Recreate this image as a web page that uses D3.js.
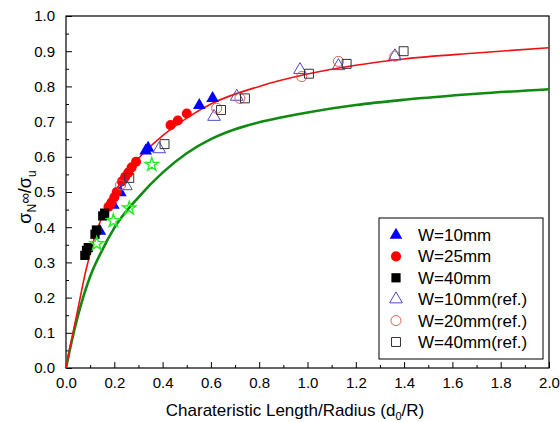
<!DOCTYPE html>
<html>
<head>
<meta charset="utf-8">
<script src="https://cdn.jsdelivr.net/npm/d3@7"></script>
<style>
  body { margin: 0; background: #fff; }
  svg { font-family: "Liberation Sans", Arial, sans-serif; }
</style>
</head>
<body>
<div id="chart"></div>
<script>
// measured points (d0/R, sigmaN/sigmau)
var w10 = [[0.607,0.766],[0.552,0.746],[0.34,0.625],[0.33,0.617],[0.225,0.498],[0.196,0.463],[0.14,0.389]];
var w25 = [[0.50,0.723],[0.463,0.703],[0.433,0.69],[0.29,0.586],[0.272,0.57],[0.258,0.555],[0.245,0.543],[0.232,0.53],[0.21,0.5],[0.2,0.485],[0.188,0.47],[0.176,0.458]];
var w40 = [[0.16,0.44],[0.152,0.432],[0.126,0.392],[0.12,0.38],[0.092,0.342],[0.085,0.334],[0.078,0.32]];
var stars = [[0.355,0.578],[0.262,0.454],[0.196,0.418],[0.127,0.353]];
var w10ref = [[0.613,0.714],[0.707,0.771],[0.386,0.622],[0.248,0.517],[0.969,0.847],[1.128,0.858],[1.362,0.886]];
var w20ref = [[0.624,0.738],[0.72,0.766],[0.226,0.52],[0.976,0.828],[1.128,0.871],[1.362,0.886]];
var w40ref = [[0.741,0.766],[0.642,0.733],[0.408,0.636],[0.262,0.54],[1.006,0.836],[1.162,0.864],[1.398,0.9]];

// fitted curves
var redX = [0, 0.02, 0.05, 0.08, 0.1, 0.12, 0.15, 0.2, 0.3, 0.4, 0.5, 0.6, 0.8, 1.0, 1.2, 1.4, 1.7, 2.0];
var redY = [0, 0.07, 0.17, 0.27, 0.325, 0.375, 0.43, 0.497, 0.595, 0.66, 0.71, 0.75, 0.80, 0.835, 0.86, 0.878, 0.895, 0.91];
var greenX = [0, 0.02, 0.05, 0.1, 0.15, 0.2, 0.3, 0.4, 0.5, 0.6, 0.7, 0.8, 0.9, 1.0, 1.2, 1.4, 1.7, 2.0];
var greenY = [0, 0.065, 0.15, 0.26, 0.335, 0.398, 0.485, 0.555, 0.61, 0.65, 0.678, 0.698, 0.713, 0.726, 0.747, 0.762, 0.779, 0.792];

var legendLabels = ["W=10mm", "W=25mm", "W=40mm", "W=10mm(ref.)", "W=20mm(ref.)", "W=40mm(ref.)"];

var width = 560, height = 422;
var padding = {left: 66, right: 11, top: 16, bottom: 54};

var svg = d3.select("#chart").append("svg")
    .attr("width", width)
    .attr("height", height);

var xScale = d3.scaleLinear().domain([0, 2]).range([padding.left, width - padding.right]);
var yScale = d3.scaleLinear().domain([0, 1]).range([height - padding.bottom, padding.top]);

var fmt = d3.format(".1f");

// x axis, major and minor ticks pointing inward
svg.append("g")
    .attr("transform", "translate(0," + yScale(0) + ")")
    .call(d3.axisBottom(xScale).tickValues(d3.range(0, 2.001, 0.2)).tickSize(-6).tickPadding(9).tickFormat(fmt));
svg.append("g")
    .attr("transform", "translate(0," + yScale(0) + ")")
    .call(d3.axisBottom(xScale).tickValues(d3.range(0.1, 2, 0.2)).tickSize(-3).tickFormat(""));

// y axis
svg.append("g")
    .attr("transform", "translate(" + xScale(0) + ",0)")
    .call(d3.axisLeft(yScale).tickValues(d3.range(0, 1.001, 0.1)).tickSize(-6).tickPadding(11).tickFormat(fmt));
svg.append("g")
    .attr("transform", "translate(" + xScale(0) + ",0)")
    .call(d3.axisLeft(yScale).tickValues(d3.range(0.05, 1, 0.1)).tickSize(-3).tickFormat(""));

svg.selectAll(".domain").remove();
svg.selectAll(".tick line").attr("stroke", "#000");
svg.selectAll(".tick text").attr("font-size", 15).attr("fill", "#000")
    .attr("font-family", "'Liberation Sans', Arial, sans-serif");

// frame
svg.append("rect")
    .attr("x", xScale(0))
    .attr("y", yScale(1))
    .attr("width", xScale(2) - xScale(0))
    .attr("height", yScale(0) - yScale(1))
    .attr("fill", "none")
    .attr("stroke", "#000")
    .attr("stroke-width", 1.2);

// curves
var line = d3.line()
    .x(function (d) { return xScale(d[0]); })
    .y(function (d) { return yScale(d[1]); })
    .curve(d3.curveMonotoneX);

svg.append("path")
    .datum(greenX.map(function (x, i) { return [x, greenY[i]]; }))
    .attr("d", line)
    .attr("fill", "none")
    .attr("stroke", "#118a11")
    .attr("stroke-width", 2.6);

svg.append("path")
    .datum(redX.map(function (x, i) { return [x, redY[i]]; }))
    .attr("d", line)
    .attr("fill", "none")
    .attr("stroke", "#ee1111")
    .attr("stroke-width", 1.6);

// marker styles
var series = [
    {data: w10, type: d3.symbolTriangle, size: 70, fill: "#0000ff", stroke: "none"},
    {data: w25, type: d3.symbolCircle, size: 80, fill: "#ff0000", stroke: "none"},
    {data: w40, type: d3.symbolSquare, size: 85, fill: "#000", stroke: "none"},
    {data: w10ref, type: d3.symbolTriangle, size: 70, fill: "none", stroke: "#4b4bc8"},
    {data: w20ref, type: d3.symbolCircle, size: 80, fill: "none", stroke: "#d65c5c"},
    {data: w40ref, type: d3.symbolSquare, size: 80, fill: "none", stroke: "#333"}
];

series.forEach(function (s) {
    svg.append("g").selectAll("path")
        .data(s.data)
        .enter()
        .append("path")
        .attr("transform", function (d) { return "translate(" + xScale(d[0]) + "," + yScale(d[1]) + ")"; })
        .attr("d", d3.symbol().type(s.type).size(s.size))
        .attr("fill", s.fill)
        .attr("stroke", s.stroke)
        .attr("stroke-width", 1);
});

// green stars (no legend entry)
svg.append("g").selectAll("path")
    .data(stars)
    .enter()
    .append("path")
    .attr("transform", function (d) { return "translate(" + xScale(d[0]) + "," + yScale(d[1]) + ")"; })
    .attr("d", d3.symbol().type(d3.symbolStar).size(55))
    .attr("fill", "none")
    .attr("stroke", "#22ee22")
    .attr("stroke-width", 1.4);

// legend
var legend = svg.append("g");
legend.append("rect")
    .attr("x", 379).attr("y", 218)
    .attr("width", 164).attr("height", 141)
    .attr("fill", "#fff")
    .attr("stroke", "#000")
    .attr("stroke-width", 1);

var rows = legend.selectAll(".row")
    .data(series)
    .enter()
    .append("g")
    .attr("class", "row")
    .attr("transform", function (d, i) { return "translate(396," + (235 + i * 21.4) + ")"; });

rows.append("path")
    .attr("d", function (d) { return d3.symbol().type(d.type).size(d.size)(); })
    .attr("fill", function (d) { return d.fill; })
    .attr("stroke", function (d) { return d.stroke; });

rows.append("text")
    .attr("x", 22)
    .attr("dy", "0.35em")
    .attr("font-size", 17)
    .text(function (d, i) { return legendLabels[i]; });

// axis titles
var xt = svg.append("text")
    .attr("x", 295)
    .attr("y", 416)
    .attr("text-anchor", "middle")
    .attr("font-size", 17);
xt.append("tspan").text("Charateristic Length/Radius (d");
xt.append("tspan").attr("font-size", 11).attr("dy", 4).text("0");
xt.append("tspan").attr("dy", -4).text("/R)");

var yt = svg.append("text")
    .attr("transform", "translate(31,197) rotate(-90)")
    .attr("text-anchor", "middle")
    .attr("font-size", 18);
yt.append("tspan").text("σ");
yt.append("tspan").attr("font-size", 12).attr("dy", 5).text("N");
yt.append("tspan").attr("dy", -6).attr("font-size", 15).text("∞");
yt.append("tspan").attr("dy", 1).text("/σ");
yt.append("tspan").attr("font-size", 12).attr("dy", 5).text("u");
</script>
</body>
</html>
